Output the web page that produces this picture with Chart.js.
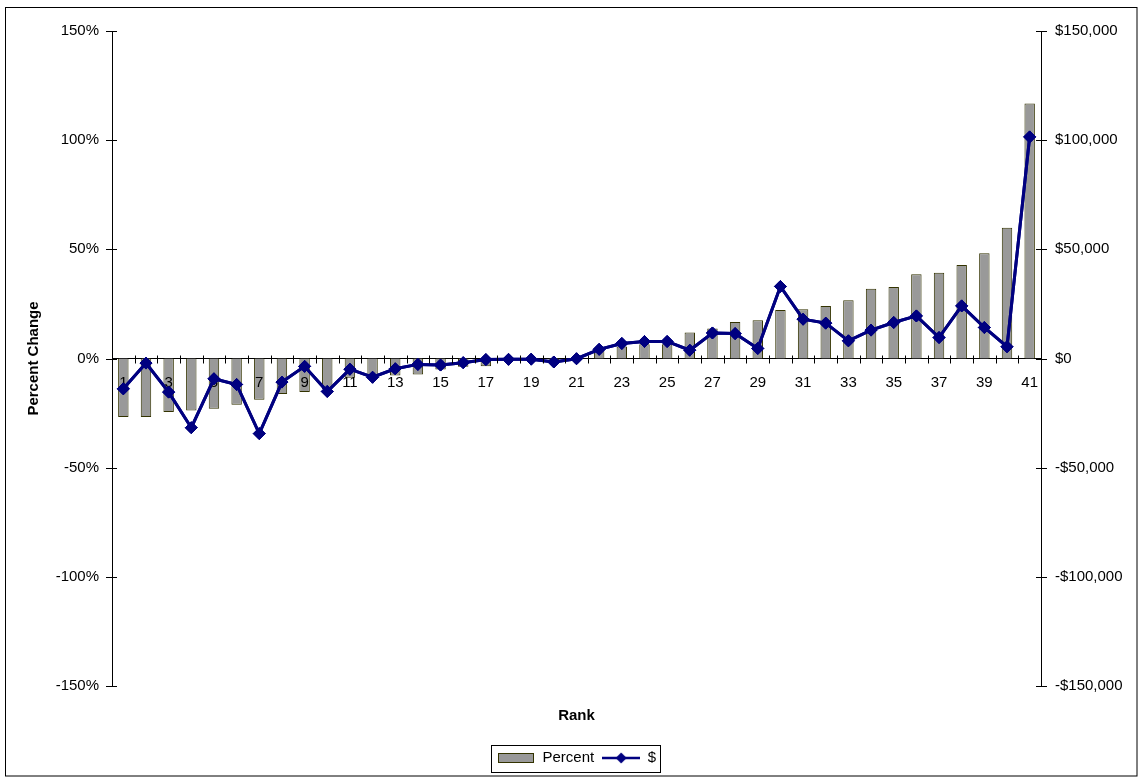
<!DOCTYPE html>
<html>
<head>
<meta charset="utf-8">
<title>Percent and dollar change by rank</title>
<script src="https://cdn.jsdelivr.net/npm/chart.js@4.4.0/dist/chart.umd.min.js"></script>
<style>
  html, body { margin: 0; padding: 0; background: #ffffff; }
  canvas { display: block; }
</style>
</head>
<body>
<canvas id="chart" width="1138" height="777"></canvas>
<script>
// Rank categories along the horizontal axis
const ranks = ['1','2','3','4','5','6','7','8','9','10','11','12','13','14','15','16','17','18','19','20',
               '21','22','23','24','25','26','27','28','29','30','31','32','33','34','35','36','37','38','39','40','41'];

// Percent change per rank (bars, left axis)
const percentChange = [-26.8, -26.8, -24.5, -23.8, -23.0, -21.2, -18.9, -16.3, -15.4, -14.0,
                       -8.8, -8.5, -7.8, -7.3, -5.0, -3.8, -3.5, -1.0, -0.8, -1.2,
                       -0.5, 4.5, 5.5, 6.5, 6.5, 11.9, 13.7, 16.7, 17.5, 22.2,
                       22.6, 24.0, 26.7, 31.9, 32.8, 38.6, 39.3, 42.8, 48.2, 59.9, 116.8];

// Dollar change per rank (line, right axis)
const dollarChange = [-13900, -2100, -15400, -31700, -9300, -11900, -34400, -10800, -3600, -15100,
                      -4900, -8600, -4700, -2700, -3000, -1900, -500, -400, -300, -1600,
                      -100, 4200, 6900, 7800, 7800, 3800, 11700, 11400, 4600, 33000,
                      18000, 16200, 8100, 13000, 16500, 19500, 9600, 24100, 14200, 5400, 101500];

// Tick values for the two vertical axes
const percentTicks = [-150, -100, -50, 0, 50, 100, 150];
const dollarTicks = [-150000, -100000, -50000, 0, 50000, 100000, 150000];

const FONT = "'Liberation Sans', Arial, sans-serif";
const BAR_FILL = '#999999';
const BAR_EDGE = '#333300';
const LINE_COLOR = '#000080';

Chart.defaults.font.family = FONT;
Chart.defaults.font.size = 15;
Chart.defaults.color = '#000000';

// Legend swatches: a wide filled box for the bars, a line with a diamond for the dollar series
function barSwatch() {
  const c = document.createElement('canvas');
  c.width = 36; c.height = 10;
  const g = c.getContext('2d');
  g.fillStyle = BAR_FILL;
  g.fillRect(0, 0, 36, 10);
  g.strokeStyle = BAR_EDGE;
  g.lineWidth = 1;
  g.strokeRect(0.5, 0.5, 35, 9);
  return c;
}
function lineSwatch() {
  const c = document.createElement('canvas');
  c.width = 38; c.height = 12;
  const g = c.getContext('2d');
  g.strokeStyle = LINE_COLOR;
  g.lineWidth = 2.5;
  g.beginPath(); g.moveTo(0, 6); g.lineTo(38, 6); g.stroke();
  g.fillStyle = LINE_COLOR;
  g.beginPath(); g.moveTo(19, 0.5); g.lineTo(24.5, 6); g.lineTo(19, 11.5); g.lineTo(13.5, 6); g.closePath(); g.fill();
  return c;
}
const swatches = [barSwatch(), lineSwatch()];

function dollarLabel(v) {
  return (v < 0 ? '-' : '') + '$' + Math.abs(v).toLocaleString('en-US');
}

// Outer frame, crossing tick marks on all three axes, and the legend box;
// the dollar line is drawn again last so it sits above the rank labels
const frameAndTicks = {
  id: 'frameAndTicks',
  afterDraw(chart) {
    const { ctx, chartArea, scales } = chart;

    chart.getDatasetMeta(0).controller.draw();

    ctx.save();
    ctx.strokeStyle = '#000000';
    ctx.lineWidth = 1;

    ctx.strokeRect(5.5, 7.5, chart.width - 6.5, chart.height - 8.5);

    ctx.beginPath();
    const xs = scales.x;
    const step = xs.getPixelForValue(1) - xs.getPixelForValue(0);
    const y0 = Math.round(scales.y.getPixelForValue(0)) + 0.5;
    for (let i = 0; i <= ranks.length; i++) {
      const px = Math.round(xs.getPixelForValue(i) - step / 2) + 0.5;
      ctx.moveTo(px, y0 - 4);
      ctx.lineTo(px, y0 + 4);
    }
    percentTicks.forEach(v => {
      const py = Math.round(scales.y.getPixelForValue(v)) + 0.5;
      ctx.moveTo(chartArea.left - 6, py);
      ctx.lineTo(chartArea.left + 5, py);
    });
    dollarTicks.forEach(v => {
      const py = Math.round(scales.y2.getPixelForValue(v)) + 0.5;
      ctx.moveTo(chartArea.right - 5, py);
      ctx.lineTo(chartArea.right + 6, py);
    });
    ctx.stroke();

    const hb = chart.legend.legendHitBoxes;
    if (hb && hb.length) {
      const l = Math.min(...hb.map(h => h.left));
      const r = Math.max(...hb.map(h => h.left + h.width));
      const t = Math.min(...hb.map(h => h.top));
      const b = Math.max(...hb.map(h => h.top + h.height));
      ctx.strokeRect(Math.round(l - 6) + 0.5, Math.round(t - 6) + 0.5, Math.round(r - l + 10), Math.round(b - t + 12));
    }
    ctx.restore();
  }
};

new Chart(document.getElementById('chart'), {
  type: 'bar',
  data: {
    labels: ranks,
    datasets: [
      {
        type: 'line',
        label: '$',
        data: dollarChange,
        yAxisID: 'y2',
        xAxisID: 'x',
        borderColor: LINE_COLOR,
        backgroundColor: LINE_COLOR,
        borderWidth: 3,
        pointStyle: 'rectRot',
        pointRadius: 6,
        pointBackgroundColor: LINE_COLOR,
        pointBorderColor: LINE_COLOR,
        pointBorderWidth: 1,
        tension: 0,
        order: 0
      },
      {
        type: 'bar',
        label: 'Percent',
        data: percentChange,
        yAxisID: 'y',
        xAxisID: 'x',
        backgroundColor: BAR_FILL,
        borderColor: BAR_EDGE,
        borderWidth: 1,
        barPercentage: 0.46,
        categoryPercentage: 1,
        order: 1
      }
    ]
  },
  options: {
    responsive: false,
    devicePixelRatio: 1,
    animation: false,
    layout: { padding: { top: 31, bottom: 1.5, left: 0, right: 0 } },
    scales: {
      x: {
        type: 'category',
        axis: 'x',
        position: { y: 0 },
        offset: true,
        grid: { display: false, drawTicks: false },
        border: { display: true, color: '#000000', width: 1 },
        ticks: {
          z: 1,
          autoSkip: false,
          maxRotation: 0,
          minRotation: 0,
          padding: 15,
          color: '#000000',
          font: { family: FONT, size: 15 },
          callback: (v, i) => (i % 2 === 0 ? ranks[i] : '')
        }
      },
      rank: {
        type: 'category',
        axis: 'x',
        position: 'bottom',
        grid: { display: false, drawTicks: false },
        border: { display: false },
        ticks: { display: false },
        title: {
          display: true,
          text: 'Rank',
          color: '#000000',
          font: { family: FONT, size: 15, weight: 'bold' },
          padding: { top: 0, bottom: 17.5 }
        },
        afterFit(s) { s.height = 56.5; }
      },
      y: {
        type: 'linear',
        position: 'left',
        min: -150,
        max: 150,
        grid: { display: false, drawTicks: false },
        border: { display: true, color: '#000000', width: 1 },
        ticks: {
          stepSize: 50,
          padding: 13,
          color: '#000000',
          font: { family: FONT, size: 15 },
          callback: v => v + '%'
        },
        title: {
          display: true,
          text: 'Percent Change',
          color: '#000000',
          font: { family: FONT, size: 15, weight: 'bold' },
          padding: { top: 25, bottom: 0 }
        },
        afterFit(s) { s.width = 112; }
      },
      y2: {
        type: 'linear',
        position: 'right',
        min: -150000,
        max: 150000,
        grid: { display: false, drawTicks: false },
        border: { display: true, color: '#000000', width: 1 },
        ticks: {
          stepSize: 50000,
          padding: 14,
          color: '#000000',
          font: { family: FONT, size: 15 },
          callback: v => dollarLabel(v)
        },
        afterFit(s) { s.width = 97; }
      }
    },
    plugins: {
      tooltip: { enabled: false },
      legend: {
        display: true,
        position: 'bottom',
        fullSize: false,
        reverse: true,
        labels: {
          usePointStyle: true,
          pointStyleWidth: 38,
          padding: 8,
          color: '#000000',
          font: { family: FONT, size: 15 },
          generateLabels(chart) {
            const items = Chart.defaults.plugins.legend.labels.generateLabels(chart);
            items.forEach(it => {
              it.pointStyle = it.datasetIndex === 1 ? swatches[0] : swatches[1];
            });
            return items;
          }
        }
      }
    }
  },
  plugins: [frameAndTicks]
});
</script>
</body>
</html>
